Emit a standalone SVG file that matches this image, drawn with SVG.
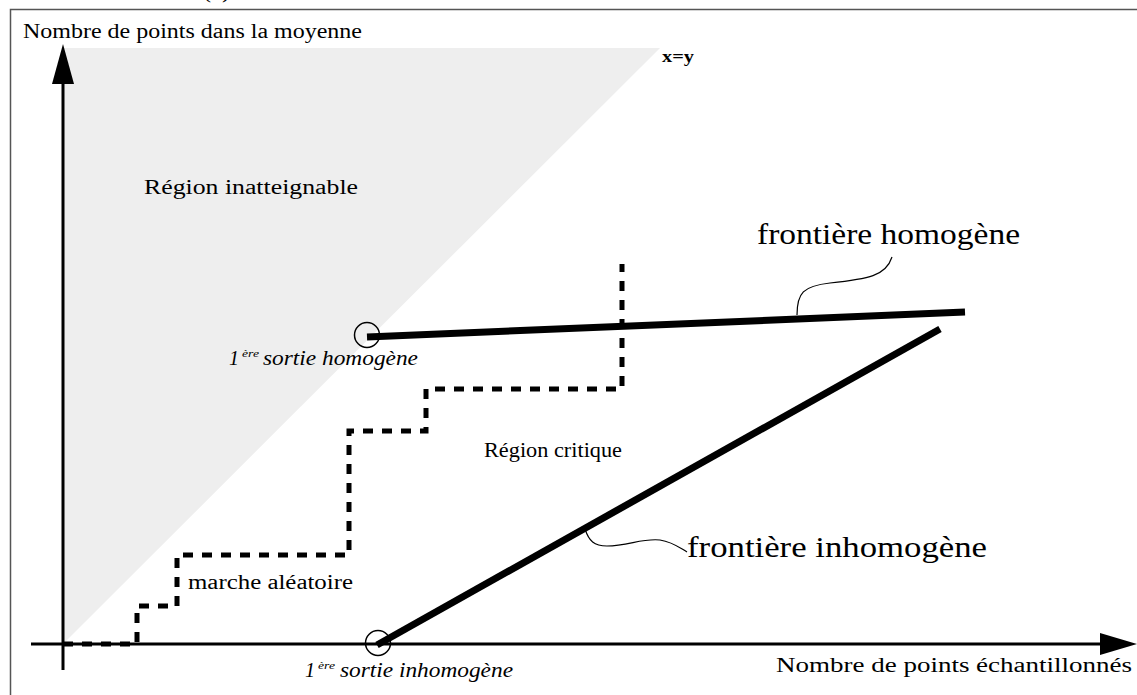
<svg xmlns="http://www.w3.org/2000/svg" width="1137" height="695" viewBox="0 0 1137 695">
<style>
.t{font-family:"Liberation Serif","Times New Roman",Times,serif;fill:#000}
.n{font-size:20px}
.big{font-size:29px}
.it{font-size:20px;font-style:italic}
.sup{font-size:11px;font-style:italic}
.axis{stroke:#000;stroke-width:3;fill:none}
.thick{stroke:#000;stroke-width:7;fill:none}
.leader{stroke:#000;stroke-width:1.2;fill:none}
.walk{stroke:#000;stroke-width:5;fill:none;stroke-dasharray:10 9}
</style>
<rect x="0" y="0" width="1137" height="695" fill="#fff"/>
<rect x="10.5" y="9.5" width="1200" height="800" fill="none" stroke="#555" stroke-width="1.5"/>
<text class="t n" x="203" y="-2" textLength="27" lengthAdjust="spacingAndGlyphs">(a)</text>

<g id="unreachable-region">
<polygon points="63,644 63,48 660,48" fill="#eeeeee"/>
<text class="t n" x="144" y="194" textLength="214" lengthAdjust="spacingAndGlyphs">Région inatteignable</text>
<text class="t" x="662" y="62" font-size="17" font-weight="bold" textLength="32" lengthAdjust="spacingAndGlyphs">x=y</text>
</g>

<g id="axes">
<line class="axis" x1="63" y1="80" x2="63" y2="670"/>
<polygon points="63,44 52,84 74,84" fill="#000"/>
<line class="axis" x1="31" y1="644" x2="1102" y2="644"/>
<polygon points="1137,644 1100,633 1100,655" fill="#000"/>
<text class="t n" x="23" y="37.5" textLength="339" lengthAdjust="spacingAndGlyphs">Nombre de points dans la moyenne</text>
<text class="t n" x="776" y="672" textLength="356" lengthAdjust="spacingAndGlyphs">Nombre de points échantillonnés</text>
</g>

<g id="random-walk">
<path class="walk" d="M63,644 H137 V606 H177 V555 H349 V431 H426 V389 H622 V264"/>
<text class="t n" x="188" y="589" textLength="165" lengthAdjust="spacingAndGlyphs">marche aléatoire</text>
</g>

<g id="critical-region">
<text class="t n" x="484" y="457" textLength="138" lengthAdjust="spacingAndGlyphs">Région critique</text>
</g>

<g id="homogeneous-boundary">
<line class="thick" x1="367" y1="337" x2="965" y2="312"/>
<circle cx="367" cy="335" r="12.5" fill="none" stroke="#000" stroke-width="1.5"/>
<text class="t it" x="229" y="365">1</text>
<text class="t sup" x="242" y="357" textLength="17" lengthAdjust="spacingAndGlyphs">ère</text>
<text class="t it" x="263" y="365" textLength="155" lengthAdjust="spacingAndGlyphs">sortie homogène</text>
<text class="t big" x="757" y="244" textLength="263" lengthAdjust="spacingAndGlyphs">frontière homogène</text>
</g>

<g id="inhomogeneous-boundary">
<line class="thick" x1="377" y1="645" x2="940" y2="329"/>
<circle cx="378" cy="643" r="12.5" fill="none" stroke="#000" stroke-width="1.5"/>
<text class="t it" x="305" y="677">1</text>
<text class="t sup" x="318" y="669" textLength="17" lengthAdjust="spacingAndGlyphs">ère</text>
<text class="t it" x="340" y="677" textLength="173" lengthAdjust="spacingAndGlyphs">sortie inhomogène</text>
<text class="t big" x="687" y="557" textLength="300" lengthAdjust="spacingAndGlyphs">frontière inhomogène</text>
</g>

<g id="connectors">
<path class="leader" d="M797,315 C797,293 803,286 830,283 C868,279 886,276 892,257"/>
<path class="leader" d="M585,529 C589,541 594,546 607,546 C628,546 642,538 660,540 C673,542 680,548 687,552"/>
</g>
</svg>
